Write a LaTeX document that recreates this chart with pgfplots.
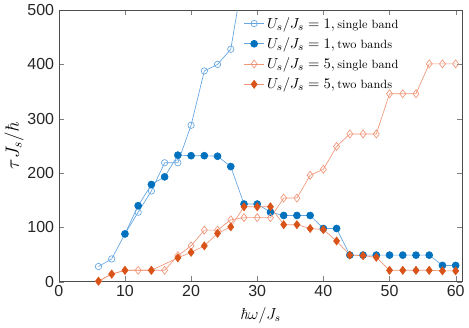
\documentclass[border=0pt]{standalone}
\usepackage{pgfplots}
\pgfplotsset{compat=1.18}
\usepackage{fontspec}
\newfontfamily\tickfont{Liberation Sans}
\definecolor{mblue}{RGB}{0,114,189}
\definecolor{lblue}{RGB}{100,165,225}
\definecolor{morange}{RGB}{217,83,25}
\definecolor{lorange}{RGB}{240,150,120}
\newcommand{\lt}[1]{{\fontsize{9}{10}\selectfont #1}}
\newcommand{\hb}{\mbox{\itshape ħ}}
\begin{document}
\begin{tikzpicture}
\begin{axis}[
  scale only axis, width=303pt, height=204pt,
  xmin=0, xmax=61, ymin=0, ymax=500,
  xtick={0,10,...,60}, ytick={0,100,...,500},
  tick align=inside, tick pos=both,
  /pgf/number format/assume math mode=true,
  ticklabel style={font=\tickfont\large, text=black!85},
  xticklabel style={yshift=1pt},
  axis line style={black!70, line width=0.4pt},
  major tick length=4pt,
  xlabel={\large $\hb\omega/J_s$},
  ylabel={\Large $\tau J_s/\hb$},
  xlabel style={yshift=-1.5pt},
  ylabel style={yshift=-4pt},
  legend style={draw=none, fill=none, at={(0.455,0.99)}, anchor=north west, font=\fontsize{11}{13}\selectfont, row sep=1.5pt, inner sep=1pt},
  legend image code/.code={\draw[mark repeat=2,mark phase=2,#1] plot coordinates {(0cm,0cm) (0.26cm,0cm) (0.52cm,0cm)};},
  legend cell align=left,
  clip=true,
]
\addplot[color=lblue, line width=0.5pt, mark=o, mark size=2.4pt, mark options={fill=white, draw=lblue}] coordinates {
(6,28) (8,42) (10,88) (12,128) (14,167) (16,219) (18,219) (20,288) (22,388) (24,400) (26,428) (28,572)};
\addlegendentry{$U_s/J_s=1,$\,\lt{single band}}
\addplot[color=lblue, line width=0.5pt, mark=*, mark size=2.6pt, mark options={fill=mblue, draw=mblue}] coordinates {
(10,88) (12,140) (14,179) (16,193) (18,233) (20,232) (22,232) (24,231) (26,212) (28,143) (30,143) (32,128) (34,122) (36,122) (38,122) (40,98) (42,98) (44,49) (46,49) (48,49) (50,49) (52,49) (54,49) (56,49) (58,30) (60,30)};
\addlegendentry{$U_s/J_s=1,$\,\lt{two bands}}
\addplot[color=lorange, line width=0.5pt, mark=diamond, mark size=3pt, mark options={fill=white, draw=lorange}] coordinates {
(6,1) (8,14) (10,21) (12,21) (14,21) (16,21) (18,48) (20,66) (22,95) (24,95) (26,114) (28,118) (30,118) (32,118) (34,154) (36,154) (38,196) (40,207) (42,249) (44,272) (46,272) (48,272) (50,346) (52,346) (54,346) (56,401) (58,401) (60,401)};
\addlegendentry{$U_s/J_s=5,$\,\lt{single band}}
\addplot[color=lorange, line width=0.5pt, mark=diamond*, mark size=3pt, mark options={fill=morange, draw=morange}] coordinates {
(6,1) (8,14) (10,21) (14,21) (18,44) (20,54) (22,66) (24,89) (26,101) (28,138) (30,138) (32,138) (34,105) (36,105) (38,98) (40,96) (42,75) (44,49) (46,48) (48,45) (50,21) (52,21) (54,21) (56,21) (58,20) (60,20)};
\addlegendentry{$U_s/J_s=5,$\,\lt{two bands}}
\end{axis}
\end{tikzpicture}
\end{document}
